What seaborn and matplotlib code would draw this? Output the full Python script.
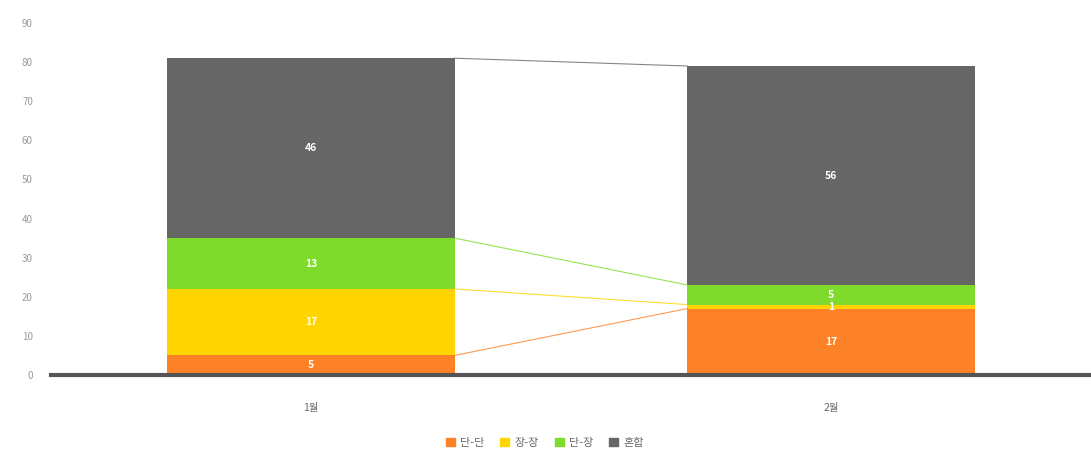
import numpy as np
import pandas as pd
import matplotlib
matplotlib.use("Agg")
import matplotlib.pyplot as plt
import matplotlib.patches as mpatches
import seaborn as sns

months = ["1월", "2월"]
series = ["단-단", "장-장", "단-장", "혼합"]
colors = ["#fd8127", "#ffd400", "#7fdb2b", "#666666"]
values = {
    "단-단": [5, 17],
    "장-장": [17, 1],
    "단-장": [13, 5],
    "혼합": [46, 56],
}

sns.set_style("white")
plt.rcParams['font.family'] = ['Noto Sans CJK KR', 'DejaVu Sans']

fig = plt.figure(figsize=(10.91, 4.59), dpi=100)
ax = fig.add_axes([51 / 1091, 84 / 459, 1 - 51 / 1091, 352 / 459])

bar_w = 0.552
bottoms = np.zeros(len(months))
for name, c in zip(series, colors):
    vals = np.array(values[name], dtype=float)
    df = pd.DataFrame({"month": months, "v": vals})
    sns.barplot(data=df, x="month", y="v", bottom=bottoms, color=c,
                width=bar_w, saturation=1, ax=ax, linewidth=0)
    # labels inside segments
    for i, v in enumerate(vals):
        ax.text(i, bottoms[i] + v / 2, f"{int(v)}", ha="center", va="center",
                color="white", fontsize=7.5, fontweight="bold")
    tops = bottoms + vals
    # connector line between stacked tops
    ax.plot([0 + bar_w / 2, 1 - bar_w / 2], [tops[0], tops[1]],
            color=c, lw=0.8, alpha=0.8)
    bottoms = tops

ax.set_xlim(-0.5, 1.5)
ax.set_ylim(0, 90)
ax.set_yticks(range(0, 91, 10))
ax.set_xlabel("")
ax.set_ylabel("")
for s in ["top", "right", "left"]:
    ax.spines[s].set_visible(False)
ax.spines["bottom"].set_color("#555555")
ax.spines["bottom"].set_linewidth(3)
ax.spines["bottom"].set_zorder(5)
ax.tick_params(axis="y", length=0, labelsize=7, labelcolor="#999999", pad=13)
ax.tick_params(axis="x", length=0, labelsize=7.5, labelcolor="#666666", pad=20)

handles = [mpatches.Patch(color=c, label=n) for n, c in zip(series, colors)]
fig.legend(handles=handles, loc="center", bbox_to_anchor=(545 / 1091, 1 - 443 / 459),
           ncol=4, frameon=False, fontsize=8, handlelength=0.8, handleheight=0.8,
           handletextpad=0.5, columnspacing=1.4, labelcolor="#666666")

fig.savefig("out.png", dpi=100)
plt.close(fig)
